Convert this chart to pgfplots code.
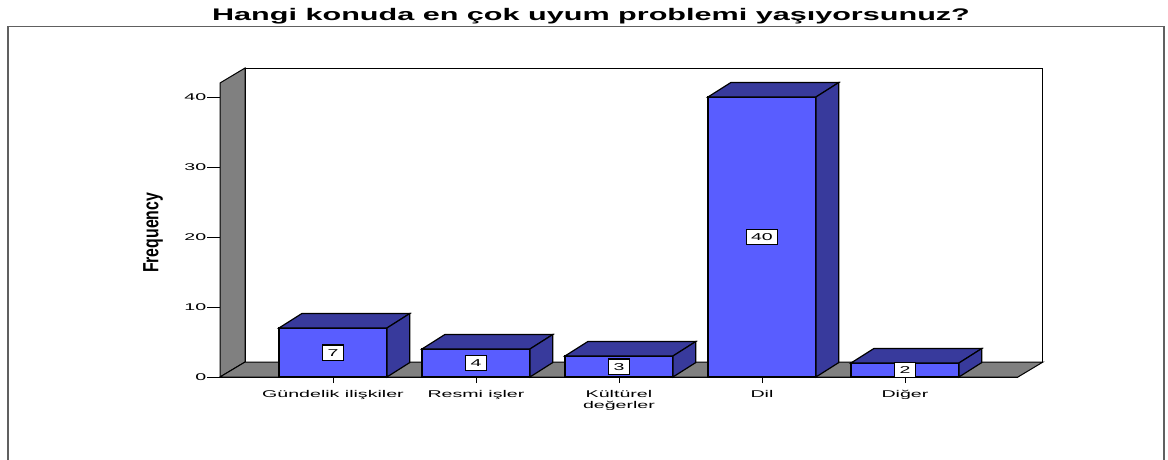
\documentclass[border=0pt]{standalone}
\usepackage{fontspec}
\setmainfont{Liberation Sans}
\newfontfamily\tickfont{Liberation Sans}[FakeStretch=2.0]
\newfontfamily\valfont{Liberation Sans}[FakeStretch=1.95]
\newfontfamily\titlefont{Liberation Sans}[FakeStretch=1.82]
\newfontfamily\ylabfont{Liberation Sans}[FakeStretch=0.72]
\usepackage{pgfplots}
\pgfplotsset{compat=1.18}
\definecolor{frontblue}{RGB}{89,93,255}
\definecolor{sideblue}{RGB}{56,58,156}
\definecolor{wallgray}{RGB}{128,128,128}
\definecolor{framegray}{RGB}{96,96,96}
\begin{document}
\begin{tikzpicture}
\begin{axis}[
  at={(220pt,82pt)}, anchor=south west,
  x=143pt, y=7pt,
  xmin=-0.79, xmax=4.79, ymin=0, ymax=42,
  clip=false,
  axis x line*=bottom, axis y line*=left,
  axis line style={black, line width=1pt, -},
  tick align=outside,
  major tick length=12.5pt,
  xtick style={/pgfplots/major tick length=6pt, black, line width=0.9pt},
  ytick style={black, line width=0.9pt},
  xtick={0,1,2,3,4},
  xticklabels={Gündelik ilişkiler, Resmi işler, {Kültürel\\değerler}, Dil, Diğer},
  ytick={0,10,20,30,40},
  /pgf/number format/assume math mode=true,
  ticklabel style={font=\tickfont\fontsize{9.8}{10.5}\selectfont},
  xticklabel style={align=center, inner sep=1pt},
  yticklabel style={inner sep=1pt},
  ylabel={Frequency},
  ylabel style={font=\ylabfont\bfseries\fontsize{22}{24}\selectfont, at={(axis description cs:-0.084,0.49)}, anchor=center},
  title={Hangi konuda en çok uyum problemi yaşıyorsunuz?},
  title style={font=\titlefont\bfseries\fontsize{16.8}{18}\selectfont, at={(axis description cs:0.465,1.193)}, anchor=base},
]
% back wall, left wall, floor
\addplot[fill=white, draw=black, line width=1pt] coordinates {(-0.615,2.14) (4.965,2.14) (4.965,44.14) (-0.615,44.14)} -- cycle;
\addplot[fill=wallgray, draw=black, line width=1pt] coordinates {(-0.79,0) (-0.615,2.14) (-0.615,44.14) (-0.79,42)} -- cycle;
\addplot[fill=wallgray, draw=black, line width=1pt] coordinates {(-0.79,0) (4.79,0) (4.965,2.14) (-0.615,2.14)} -- cycle;
% front faces
\addplot[ybar, bar width=0.755, fill=frontblue, draw=black, line width=1.2pt] coordinates {(0,7) (1,4) (2,3) (3,40) (4,2)};
% top faces
\addplot[fill=sideblue, draw=black, line width=1.2pt] coordinates {(-0.3775,7) (-0.2175,9.07) (0.5375,9.07) (0.3775,7)} -- cycle;
\addplot[fill=sideblue, draw=black, line width=1.2pt] coordinates {(0.6225,4) (0.7825,6.07) (1.5375,6.07) (1.3775,4)} -- cycle;
\addplot[fill=sideblue, draw=black, line width=1.2pt] coordinates {(1.6225,3) (1.7825,5.07) (2.5375,5.07) (2.3775,3)} -- cycle;
\addplot[fill=sideblue, draw=black, line width=1.2pt] coordinates {(2.6225,40) (2.7825,42.07) (3.5375,42.07) (3.3775,40)} -- cycle;
\addplot[fill=sideblue, draw=black, line width=1.2pt] coordinates {(3.6225,2) (3.7825,4.07) (4.5375,4.07) (4.3775,2)} -- cycle;
% side faces
\addplot[fill=sideblue, draw=black, line width=1.2pt] coordinates {(0.3775,0) (0.3775,7) (0.5375,9.07) (0.5375,2.07)} -- cycle;
\addplot[fill=sideblue, draw=black, line width=1.2pt] coordinates {(1.3775,0) (1.3775,4) (1.5375,6.07) (1.5375,2.07)} -- cycle;
\addplot[fill=sideblue, draw=black, line width=1.2pt] coordinates {(2.3775,0) (2.3775,3) (2.5375,5.07) (2.5375,2.07)} -- cycle;
\addplot[fill=sideblue, draw=black, line width=1.2pt] coordinates {(3.3775,0) (3.3775,40) (3.5375,42.07) (3.5375,2.07)} -- cycle;
\addplot[fill=sideblue, draw=black, line width=1.2pt] coordinates {(4.3775,0) (4.3775,2) (4.5375,4.07) (4.5375,2.07)} -- cycle;
% value labels
\addplot[draw=none, mark=none, nodes near coords, point meta=explicit symbolic,
  nodes near coords align={anchor=center},
  every node near coord/.append style={anchor=center, draw=black, fill=white, line width=1.2pt,
    font=\valfont\fontsize{10}{10}\selectfont, inner xsep=5pt, inner ysep=4pt,
    text height=7.2pt, text depth=0pt}]
  table[x=x, y=y, meta=lab, row sep=\\] {x y lab\\ 0 3.5 7\\ 1 2 4\\ 2 1.5 3\\ 3 20 40\\ 4 1 2\\};
\end{axis}
\draw[framegray, line width=1.5pt] (8pt,-20pt) rectangle (1164pt,432.3pt);
\pgfresetboundingbox
\useasboundingbox (0,0) rectangle (1168pt,459pt);
\end{tikzpicture}
\end{document}
